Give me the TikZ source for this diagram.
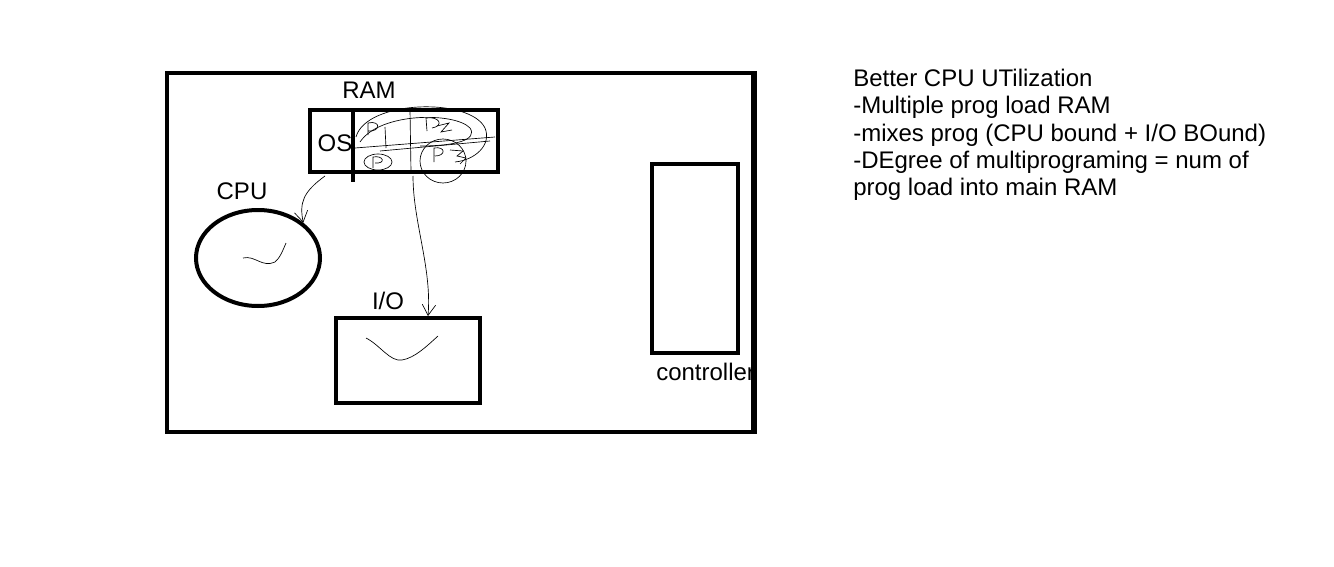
\documentclass[tikz,border=0pt]{standalone}
\usepackage{fontspec}
\setmainfont{Liberation Sans}
\usetikzlibrary{shapes.geometric,arrows.meta}

\tikzset{
  box/.style={draw, line width=3pt, inner sep=0pt},
  scribble/.style={line width=0.5pt},
  lbl/.style={inner sep=0pt}
}

\begin{document}
\begin{tikzpicture}[x=0.75pt, y=-0.75pt, font=\fontsize{18}{20.4}\selectfont, >={Straight Barb[length=8pt,width=10pt]}]
    \useasboundingbox (0,0) rectangle (1334,567);
    \node[box, minimum width=439.5pt, minimum height=269.25pt] (board) at (460,252.5) {};
    \node[box, minimum width=141pt, minimum height=46.5pt] (ram) at (404,141) {};
    \node[box, ellipse, minimum width=93pt, minimum height=72pt] (cpu) at (258,258) {};
    \node[box, minimum width=108pt, minimum height=63.75pt] (io) at (408,360.5) {};
    \node[box, minimum width=64.5pt, minimum height=141.75pt] (ctrl) at (695,258.5) {};

    \node[lbl] (ramlbl) at (369,90) {RAM};
    \node[lbl] (oslbl) at (335,143) {OS};
    \node[lbl] (cpulbl) at (242,191) {CPU};
    \node[lbl] (iolbl) at (388,301) {I/O};
    \node[lbl, anchor=west] (ctrllbl) at (656,372) {controller};
    \draw[line width=3pt] (board.north east) -- (board.south east);

    \draw[line width=3pt] (353,110) -- (353,182);

    % hand notes inside RAM
    \draw[scribble] (368,135) -- (368,123) .. controls (381,120) and (381,132) .. (368,131);
    \draw[scribble] (385,127) -- (386,148);
    \draw[scribble] (427,131) -- (426,118) .. controls (440,116) and (444,126) .. (432,128);
    \draw[scribble] (437,126) -- (449,123) -- (441,132) -- (452,130);
    \draw[scribble] (434,162) -- (434,148) .. controls (446,146) and (446,156) .. (435,156);
    \draw[scribble] (450,150) -- (463,151) -- (457,156) -- (466,158) -- (460,164);
    \draw[scribble] (378,162) ellipse [x radius=14, y radius=8];
    \draw[scribble] (373,168) -- (373,157) .. controls (384,155) and (386,164) .. (375,163);
    \draw[scribble] (443,161) ellipse [x radius=23, y radius=22];
    \draw[scribble] (356,137) .. controls (366,100) and (470,97) .. (485,128)
      .. controls (492,145) and (475,160) .. (455,162);
    \draw[scribble] (360,142) .. controls (380,112) and (455,112) .. (470,128)
      .. controls (478,140) and (455,146) .. (420,146);
    \draw[scribble] (355,148) -- (495,137);
    \draw[scribble] (380,151) -- (490,141);
    \draw[scribble] (410,110) -- (411,172);

    % scribbles in CPU and I/O
    \draw[scribble] (243,258) .. controls (255,255) and (262,268) .. (275,262)
      .. controls (280,258) and (283,250) .. (286,243);
    \draw[scribble] (366,338) .. controls (380,345) and (390,362) .. (402,360)
      .. controls (415,358) and (428,345) .. (438,336);

    \draw[scribble, ->] ([shift={(17,2)}]ram.south west) .. controls +(-22,16) and +(-4,-20) .. (cpu.north east);
    \draw[scribble, ->] ([shift={(9,2)}]ram.south) .. controls +(0,46) and +(4,-48) .. ([xshift=15pt]io.north);

    \node[lbl, anchor=north west, align=left] (notes) at (853,69) {Better CPU UTilization\\
      -Multiple prog load RAM\\
      -mixes prog (CPU bound + I/O BOund)\\
      -DEgree of multiprograming = num of\\
      prog load into main RAM};
  \end{tikzpicture}
\end{document}
